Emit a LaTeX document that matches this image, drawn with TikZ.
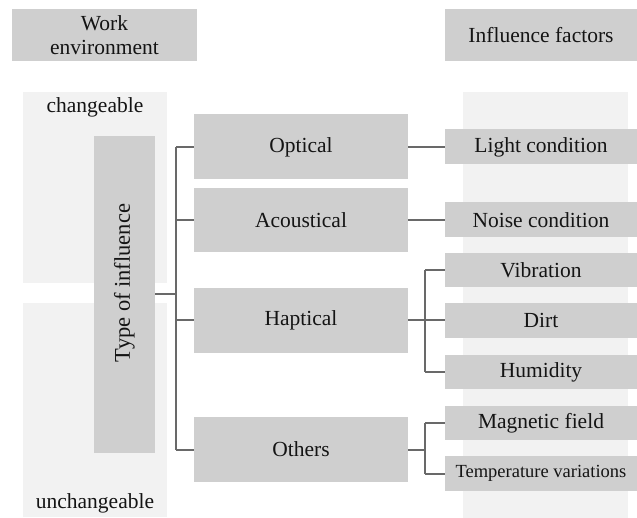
\documentclass[tikz,border=0pt]{standalone}
\usepackage{fontspec}
\setmainfont{Liberation Serif}
\begin{document}
\begin{tikzpicture}[x=1pt,y=-1pt,
  lbl/.style={text=black!92,font=\fontsize{21.5}{24}\selectfont},
  box/.style={lbl,fill=boxgray,draw=none,inner sep=0pt,align=center},
  link/.style={draw=linegray,line width=2pt}]
\definecolor{boxgray}{RGB}{207,207,207}
\definecolor{panelgray}{RGB}{242,242,242}
\definecolor{linegray}{RGB}{105,105,105}
\useasboundingbox (0,0) rectangle (637,518);

% background panels
\fill[panelgray] (23,92) rectangle (167,283);
\fill[panelgray] (23,303) rectangle (167,517);
\fill[panelgray] (463,92) rectangle (628,518);
\node[lbl] (chg) at (95,107) {changeable};
\node[lbl] (unchg) at (95,503) {unchangeable};

% headers
\node[box,minimum width=185pt,minimum height=52pt] (env) at (104.5,35) {Work\\environment};
\node[box,minimum width=192pt,minimum height=52pt] (fac) at (541,35) {Influence factors};

% type of influence
\node[box,minimum width=61pt,minimum height=317pt] (type) at (124.5,294.5) {};
\node[lbl,rotate=90,font=\fontsize{22.5}{25}\selectfont] (typelbl) at (124.5,283) {Type of influence};

% categories
\node[box,minimum width=214pt,minimum height=65pt] (opt) at (301,147) {Optical};
\node[box,minimum width=214pt,minimum height=64pt] (aco) at (301,220) {Acoustical};
\node[box,minimum width=214pt,minimum height=65pt] (hap) at (301,320.5) {Haptical};
\node[box,minimum width=214pt,minimum height=65pt] (oth) at (301,449.5) {Others};

% influence factors
\node[box,minimum width=192pt,minimum height=35pt] (light) at (541,147) {Light condition};
\node[box,minimum width=192pt,minimum height=35pt] (noise) at (541,220) {Noise condition};
\node[box,minimum width=192pt,minimum height=34pt] (vib) at (541,270) {Vibration};
\node[box,minimum width=192pt,minimum height=35pt] (dirt) at (541,320.5) {Dirt};
\node[box,minimum width=192pt,minimum height=34pt] (hum) at (541,372) {Humidity};
\node[box,minimum width=192pt,minimum height=34pt] (mag) at (541,423) {Magnetic field};
\node[box,minimum width=192pt,minimum height=35pt,font=\fontsize{18.5}{21}\selectfont] (temp) at (541,473.5) {Temperature variations};

% connectors
\coordinate (trunk) at (176,294.5);
\coordinate (hb) at (425,320.5);
\coordinate (ob) at (425,449.5);
\draw[link] (type.east) -- (trunk);
\draw[link] (trunk |- opt.west) -- (trunk |- oth.west);
\foreach \n in {opt,aco,hap,oth}
  \draw[link] (trunk |- \n.west) -- (\n.west);
\draw[link] (opt.east) -- (light.west);
\draw[link] (aco.east) -- (noise.west);
\draw[link] (hap.east) -- (hb);
\draw[link] (hb |- vib.west) -- (hb |- hum.west);
\foreach \n in {vib,dirt,hum}
  \draw[link] (hb |- \n.west) -- (\n.west);
\draw[link] (oth.east) -- (ob);
\draw[link] (ob |- mag.west) -- (ob |- temp.west);
\foreach \n in {mag,temp}
  \draw[link] (ob |- \n.west) -- (\n.west);
\end{tikzpicture}
\end{document}
